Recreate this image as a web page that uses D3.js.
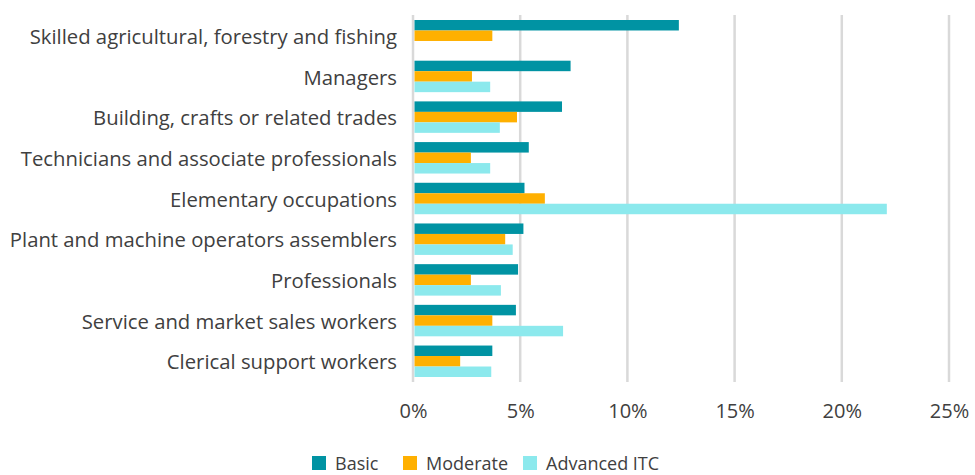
<!DOCTYPE html>
<html>
<head>
<meta charset="utf-8">
<script src="https://cdn.jsdelivr.net/npm/d3@7"></script>
<style>
  html, body { margin: 0; padding: 0; background: #fff; }
  svg { display: block; font-family: "Open Sans", sans-serif; }
</style>
</head>
<body>
<svg id="chart" width="975" height="475"></svg>
<script>
// Occupations, top to bottom
const categories = [
  "Skilled agricultural, forestry and fishing",
  "Managers",
  "Building, crafts or related trades",
  "Technicians and associate professionals",
  "Elementary occupations",
  "Plant and machine operators assemblers",
  "Professionals",
  "Service and market sales workers",
  "Clerical support workers"
];

const seriesNames = ["Basic", "Moderate", "Advanced ITC"];

// Shares in percent, one array per series (null = no value)
const basic    = [12.4, 7.35, 6.95, 5.4, 5.2, 5.15, 4.9, 4.8, 3.7];
const moderate = [3.7, 2.75, 4.85, 2.7, 6.15, 4.3, 2.7, 3.7, 2.2];
const advanced = [null, 3.6, 4.05, 3.6, 22.1, 4.65, 4.1, 7.0, 3.65];

const xTicks = [0, 5, 10, 15, 20, 25];

const colors = ["#0093a3", "#ffb000", "#8ce9ed"];

const svg = d3.select("#chart");
const margin = { top: 15, right: 26, bottom: 93, left: 413 };
const width = 975 - margin.left - margin.right;
const height = 475 - margin.top - margin.bottom;

const x = d3.scaleLinear().domain([0, 25]).range([margin.left, margin.left + width]);
const y = d3.scaleBand().domain(categories)
  .range([margin.top, margin.top + height])
  .paddingInner(0.227).paddingOuter(0.123);
const ySub = d3.scaleBand().domain(seriesNames).range([0, y.bandwidth()]);

// Vertical gridlines
svg.append("g").selectAll("line").data(xTicks).join("line")
  .attr("x1", d => x(d)).attr("x2", d => x(d))
  .attr("y1", margin.top).attr("y2", margin.top + height)
  .attr("stroke", "#d9d9d9").attr("stroke-width", 2.5);

// Bars
const series = [basic, moderate, advanced];
const rows = [];
categories.forEach((c, i) => {
  seriesNames.forEach((s, j) => {
    if (series[j][i] != null) rows.push({ c, s, v: series[j][i], color: colors[j] });
  });
});

svg.append("g").selectAll("rect").data(rows).join("rect")
  .attr("x", x(0) + 1.5)
  .attr("y", d => y(d.c) + ySub(d.s))
  .attr("width", d => x(d.v) - x(0) - 1.5)
  .attr("height", ySub.bandwidth())
  .attr("fill", d => d.color);

// X axis labels
const xAxis = d3.axisBottom(x).tickValues(xTicks).tickFormat(d => d + "%").tickSize(0).tickPadding(0);
const gx = svg.append("g").attr("transform", `translate(0, ${margin.top + height + 22})`).call(xAxis);
gx.select(".domain").remove();
gx.selectAll("text").attr("font-size", 20).attr("fill", "#404040")
  .attr("font-family", "'Open Sans', sans-serif");

// Category labels
const yAxis = d3.axisLeft(y).tickSize(0).tickPadding(0);
const gy = svg.append("g").attr("transform", `translate(${margin.left - 16}, 0)`).call(yAxis);
gy.select(".domain").remove();
gy.selectAll("text").attr("font-size", 20.3).attr("fill", "#404040")
  .attr("font-family", "'Open Sans', sans-serif").attr("dy", "0.4em");

// Legend
const legendX = [312, 403, 523];
const legend = svg.append("g").selectAll("g").data(seriesNames).join("g")
  .attr("transform", (d, i) => `translate(${legendX[i]}, 456)`);
legend.append("rect").attr("width", 14).attr("height", 14).attr("fill", (d, i) => colors[i]);
legend.append("text").attr("x", 23).attr("y", 13.5)
  .attr("font-size", 18).attr("fill", "#404040").text(d => d);
</script>
</body>
</html>
